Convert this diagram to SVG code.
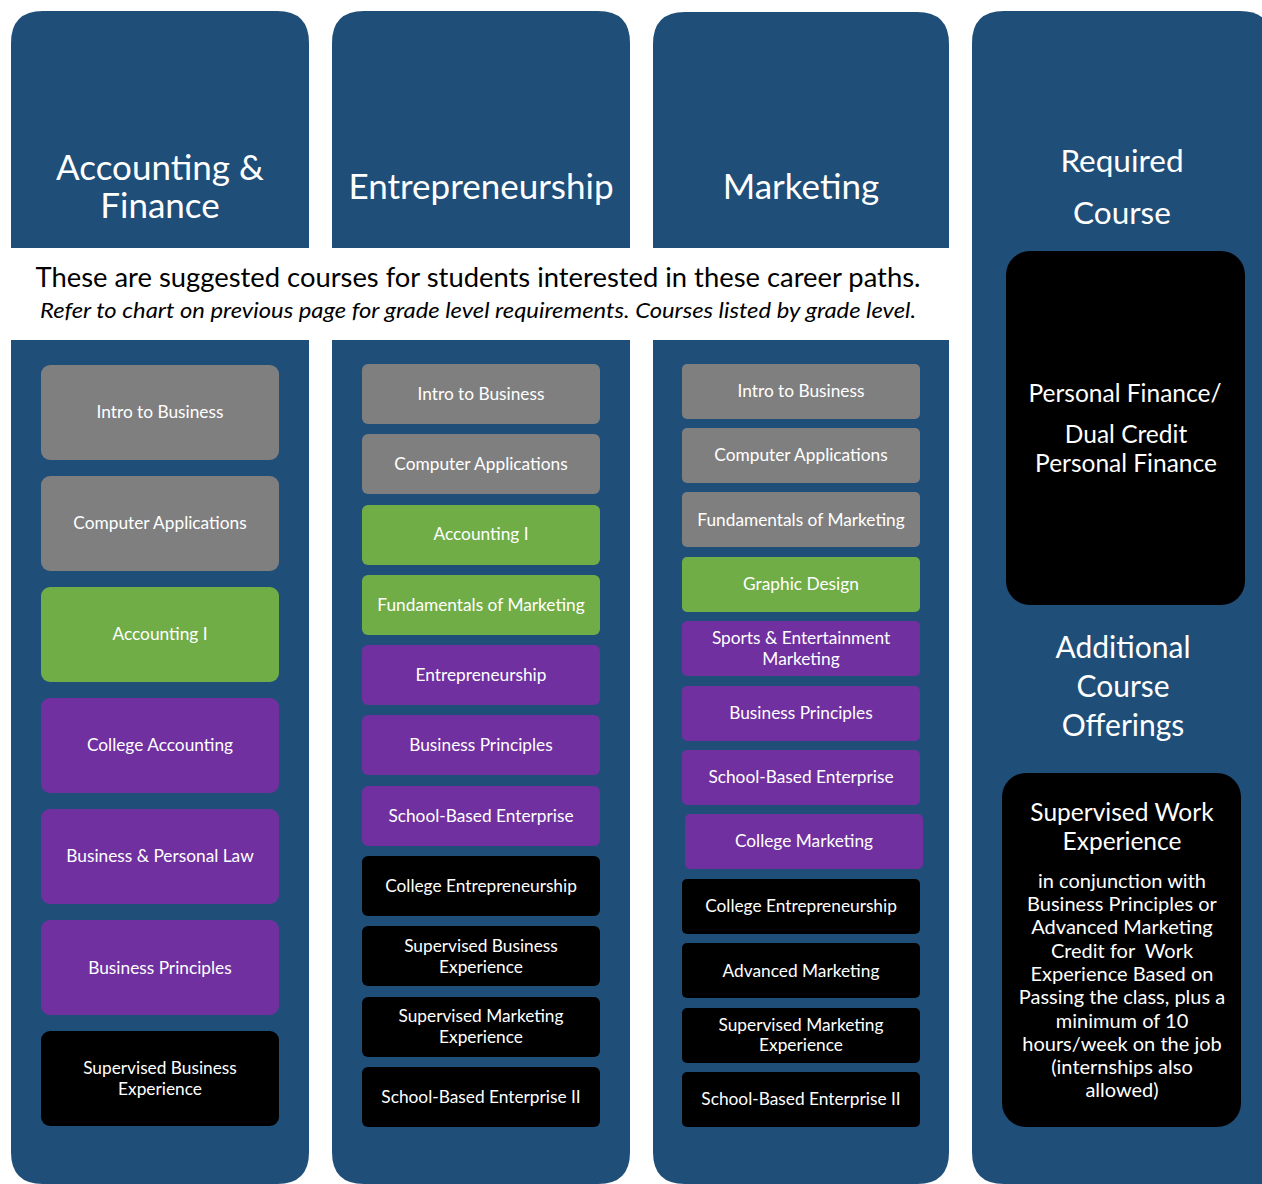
<svg xmlns="http://www.w3.org/2000/svg" width="1262" height="1184" viewBox="0 0 1262 1184">
<style>
.nv{fill:#1F4E79}
.gy{fill:#7F7F7F}
.gn{fill:#70AD47}
.pu{fill:#7030A0}
.bk{fill:#000000}
text{font-family:Lato,"Open Sans","DejaVu Sans",sans-serif;fill:#ffffff;text-anchor:middle}
.hd{font-size:35px}
.lb{font-size:17.3px}
.rq{font-size:31.5px}
.ad{font-size:30px}
.pf{font-size:24.5px}
.sw{font-size:24.5px}
.bd{font-size:20px}
.cap{fill:#000000;font-size:26px}
.it{fill:#000000;font-size:21px;font-style:italic}
</style>
<rect width="1262" height="1184" fill="#ffffff"/>

<g id="col-accounting">
<path class="nv" d="M11,248 V43 Q11,11 43,11 H277 Q309,11 309,43 V248 Z"/>
<text class="hd" x="160" y="180">Accounting &amp;</text>
<text class="hd" x="160" y="218">Finance</text>
<path class="nv" d="M11,340 H309 V1152 Q309,1184 277,1184 H43 Q11,1184 11,1152 Z"/>
</g>
<g id="col-entre">
<path class="nv" d="M332,248 V43 Q332,11 364,11 H598 Q630,11 630,43 V248 Z"/>
<text class="hd" x="481" y="199">Entrepreneurship</text>
<path class="nv" d="M332,340 H630 V1152 Q630,1184 598,1184 H364 Q332,1184 332,1152 Z"/>
</g>
<g id="col-marketing">
<path class="nv" d="M653,248 V44 Q653,12 685,12 H917 Q949,12 949,44 V248 Z"/>
<text class="hd" x="801" y="199">Marketing</text>
<path class="nv" d="M653,340 H949 V1152 Q949,1184 917,1184 H685 Q653,1184 653,1152 Z"/>
</g>
<g id="col-required">
<path class="nv" d="M972,43 Q972,11 1004,11 H1240 Q1272,11 1272,43 V1184 H1004 Q972,1184 972,1152 Z"/>
<text class="rq" x="1122" y="172">Required</text>
<text class="rq" x="1122" y="224">Course</text>
<text class="ad" x="1123" y="658">Additional</text>
<text class="ad" x="1123" y="697">Course</text>
<text class="ad" x="1123" y="736">Offerings</text>
</g>

<g id="caption">
<text class="cap" x="478" y="287" textLength="885" lengthAdjust="spacingAndGlyphs">These are suggested courses for students interested in these career paths.</text>
<text class="it" x="478" y="318" textLength="876" lengthAdjust="spacingAndGlyphs">Refer to chart on previous page for grade level requirements. Courses listed by grade level.</text>
</g>

<g id="req-personal-finance">
<rect class="bk" x="1006" y="251" width="239" height="354" rx="24"/>
<text class="pf" x="1125" y="402">Personal Finance/</text>
<text class="pf" x="1126" y="443">Dual Credit</text>
<text class="pf" x="1126" y="472">Personal Finance</text>
</g>
<g id="add-supervised-work">
<rect class="bk" x="1002" y="773" width="239" height="354" rx="24"/>
<text class="sw" x="1122" y="821">Supervised Work</text>
<text class="sw" x="1122" y="850">Experience</text>
<text class="bd" x="1122" y="888">in conjunction with</text>
<text class="bd" x="1122" y="911">Business Principles or</text>
<text class="bd" x="1122" y="934">Advanced Marketing</text>
<text class="bd" x="1122" y="958">Credit for&#160; Work</text>
<text class="bd" x="1122" y="981">Experience Based on</text>
<text class="bd" x="1122" y="1004">Passing the class, plus a</text>
<text class="bd" x="1122" y="1028">minimum of 10</text>
<text class="bd" x="1122" y="1051">hours/week on the job</text>
<text class="bd" x="1122" y="1074">(internships also</text>
<text class="bd" x="1122" y="1097">allowed)</text>
</g>

<!-- Column 1 courses -->
<g id="a1"><rect class="gy" x="41" y="365" width="238" height="95" rx="9"/><text class="lb" x="160" y="418">Intro to Business</text></g>
<g id="a2"><rect class="gy" x="41" y="476" width="238" height="95" rx="9"/><text class="lb" x="160" y="529">Computer Applications</text></g>
<g id="a3"><rect class="gn" x="41" y="587" width="238" height="95" rx="9"/><text class="lb" x="160" y="640">Accounting I</text></g>
<g id="a4"><rect class="pu" x="41" y="698" width="238" height="95" rx="9"/><text class="lb" x="160" y="751">College Accounting</text></g>
<g id="a5"><rect class="pu" x="41" y="809" width="238" height="95" rx="9"/><text class="lb" x="160" y="862">Business &amp; Personal Law</text></g>
<g id="a6"><rect class="pu" x="41" y="920" width="238" height="95" rx="9"/><text class="lb" x="160" y="974">Business Principles</text></g>
<g id="a7"><rect class="bk" x="41" y="1031" width="238" height="95" rx="9"/><text class="lb" x="160" y="1074">Supervised Business</text><text class="lb" x="160" y="1095">Experience</text></g>

<!-- Column 2 courses -->
<g id="e1"><rect class="gy" x="362" y="364" width="238" height="60" rx="6"/><text class="lb" x="481" y="400">Intro to Business</text></g>
<g id="e2"><rect class="gy" x="362" y="434" width="238" height="60" rx="6"/><text class="lb" x="481" y="470">Computer Applications</text></g>
<g id="e3"><rect class="gn" x="362" y="505" width="238" height="60" rx="6"/><text class="lb" x="481" y="540">Accounting I</text></g>
<g id="e4"><rect class="gn" x="362" y="575" width="238" height="60" rx="6"/><text class="lb" x="481" y="611">Fundamentals of Marketing</text></g>
<g id="e5"><rect class="pu" x="362" y="645" width="238" height="60" rx="6"/><text class="lb" x="481" y="681">Entrepreneurship</text></g>
<g id="e6"><rect class="pu" x="362" y="715" width="238" height="60" rx="6"/><text class="lb" x="481" y="751">Business Principles</text></g>
<g id="e7"><rect class="pu" x="362" y="786" width="238" height="60" rx="6"/><text class="lb" x="481" y="822">School-Based Enterprise</text></g>
<g id="e8"><rect class="bk" x="362" y="856" width="238" height="60" rx="6"/><text class="lb" x="481" y="892">College Entrepreneurship</text></g>
<g id="e9"><rect class="bk" x="362" y="926" width="238" height="60" rx="6"/><text class="lb" x="481" y="952">Supervised Business</text><text class="lb" x="481" y="973">Experience</text></g>
<g id="e10"><rect class="bk" x="362" y="997" width="238" height="60" rx="6"/><text class="lb" x="481" y="1022">Supervised Marketing</text><text class="lb" x="481" y="1043">Experience</text></g>
<g id="e11"><rect class="bk" x="362" y="1067" width="238" height="60" rx="6"/><text class="lb" x="481" y="1103">School-Based Enterprise II</text></g>

<!-- Column 3 courses -->
<g id="m1"><rect class="gy" x="682" y="364" width="238" height="55" rx="5"/><text class="lb" x="801" y="397">Intro to Business</text></g>
<g id="m2"><rect class="gy" x="682" y="428" width="238" height="55" rx="5"/><text class="lb" x="801" y="461">Computer Applications</text></g>
<g id="m3"><rect class="gy" x="682" y="492" width="238" height="55" rx="5"/><text class="lb" x="801" y="526">Fundamentals of Marketing</text></g>
<g id="m4"><rect class="gn" x="682" y="557" width="238" height="55" rx="5"/><text class="lb" x="801" y="590">Graphic Design</text></g>
<g id="m5"><rect class="pu" x="682" y="621" width="238" height="55" rx="5"/><text class="lb" x="801" y="644">Sports &amp; Entertainment</text><text class="lb" x="801" y="665">Marketing</text></g>
<g id="m6"><rect class="pu" x="682" y="686" width="238" height="55" rx="5"/><text class="lb" x="801" y="719">Business Principles</text></g>
<g id="m7"><rect class="pu" x="682" y="750" width="238" height="55" rx="5"/><text class="lb" x="801" y="783">School-Based Enterprise</text></g>
<g id="m8"><rect class="pu" x="685" y="814" width="238" height="55" rx="5"/><text class="lb" x="804" y="847">College Marketing</text></g>
<g id="m9"><rect class="bk" x="682" y="879" width="238" height="55" rx="5"/><text class="lb" x="801" y="912">College Entrepreneurship</text></g>
<g id="m10"><rect class="bk" x="682" y="943" width="238" height="55" rx="5"/><text class="lb" x="801" y="977">Advanced Marketing</text></g>
<g id="m11"><rect class="bk" x="682" y="1008" width="238" height="55" rx="5"/><text class="lb" x="801" y="1031">Supervised Marketing</text><text class="lb" x="801" y="1051">Experience</text></g>
<g id="m12"><rect class="bk" x="682" y="1072" width="238" height="55" rx="5"/><text class="lb" x="801" y="1105">School-Based Enterprise II</text></g>

<g id="connectors"></g>
</svg>
